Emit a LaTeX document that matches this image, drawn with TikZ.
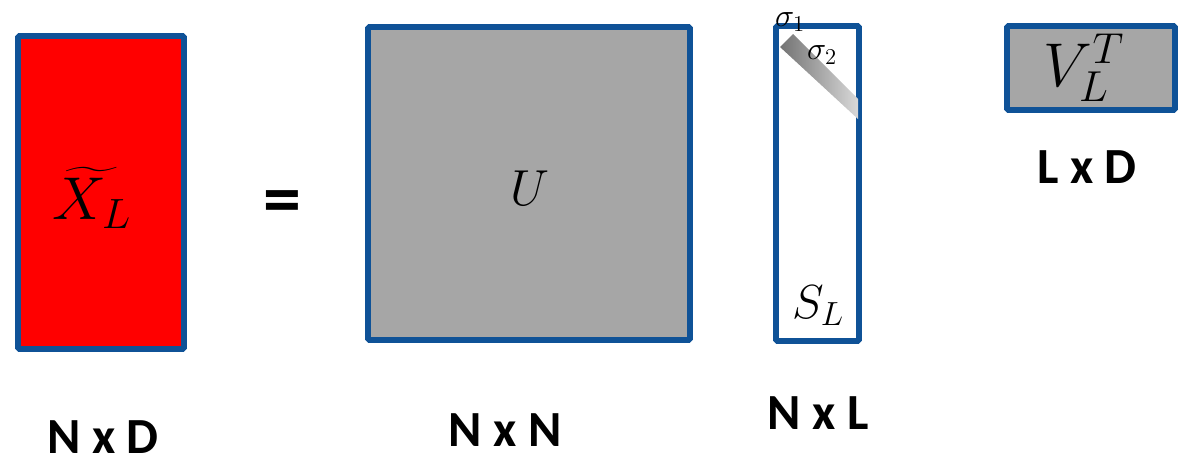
\documentclass[tikz,border=0pt]{standalone}
\usepackage{fix-cm}
\usepackage{amsmath}
\usepackage{fontspec}
\setmainfont{Carlito}
\usetikzlibrary{positioning}
\definecolor{edge}{HTML}{0F5297}
\definecolor{matred}{HTML}{FF0000}
\definecolor{matgray}{HTML}{A6A6A6}
\begin{document}
\begin{tikzpicture}[
  x=0.025cm, y=-0.025cm,
  mat/.style={draw=edge, line width=4pt, inner sep=0pt, rounded corners=1pt},
  dim/.style={font=\fontsize{36}{36}\selectfont\bfseries, inner sep=0pt},
  sym/.style={font=\fontsize{#1}{#1}\selectfont, inner sep=0pt},
  sym/.default=36,
  sig/.style={font=\fontsize{23}{23}\selectfont, inner sep=0pt},
]
\useasboundingbox (0,0) rectangle (1188,462);
% the four matrices
\node[mat, fill=matred, minimum width=4.15cm, minimum height=7.825cm] (xl) at (101,192.5) {};
\node[mat, fill=matgray, minimum width=8.05cm, minimum height=7.825cm] (u) at (529,183.5) {};
\node[mat, fill=white, minimum width=2.075cm, minimum height=7.875cm] (s) at (817.5,183.5) {};
\node[mat, fill=matgray, minimum width=4.2cm, minimum height=2.1cm] (v) at (1091,68) {};
% diagonal of singular values
\shade[left color=black!55, right color=black!15] (780,47) -- (793,34) -- (858,99) -- (858,119) -- cycle;
\node[sig] (s1) at (790,22) {$\sigma_1$};
\node[sig] (s2) at (822,55) {$\sigma_2$};
% symbols
\node[sym=43] (xlab) at (92,198) {$\widetilde{X_L}$};
\node[font=\fontsize{54}{54}\selectfont\bfseries, inner sep=0pt] (eq) at (282,208) {=};
\node[sym=36] (ulab) at (530,188) {$U$};
\node[sym=34] (slab) at (818,306) {$S_L$};
\node[sym=44] (vlab) at (1084,68) {$V_L^T$};
% sizes
\node[dim] (dxl) at (103,437) {N x D};
\node[dim] (du) at (505,430) {N x N};
\node[dim] (ds) at (818,413) {N x L};
\node[dim] (dv) at (1087,167) {L x D};
\end{tikzpicture}
\end{document}
